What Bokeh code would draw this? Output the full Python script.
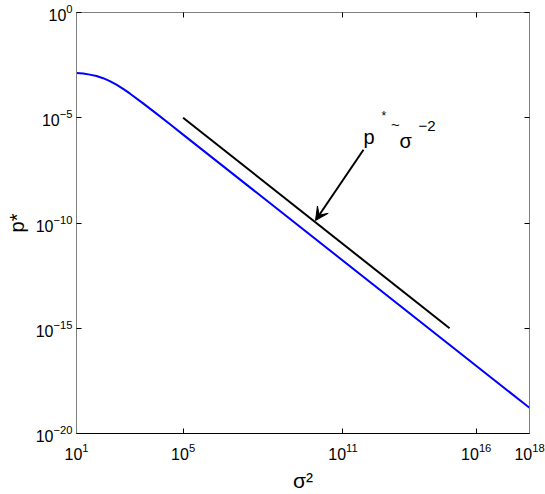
from bokeh.plotting import figure
from bokeh.models import (FixedTicker, LogAxis, Label, Arrow, VeeHead, Range1d)
from bokeh.embed import file_html
from bokeh.resources import INLINE

# ---- data ----
sigma2 = [1e1, 17.8, 31.6, 56.2, 1e2, 178, 316, 562, 1e3, 3160, 1e4, 3.16e4, 1e5, 1e18]
p_star = [1.33e-3, 1.25e-3, 1.12e-3, 9.57e-4, 7.57e-4, 5.52e-4, 3.72e-4, 2.36e-4,
          1.43e-4, 4.84e-5, 1.57e-5, 5.0e-6, 1.58e-6, 1.66e-19]
ref_sigma2 = [1e5, 1e15]
ref_p = [1e-5, 1e-15]
x_ticks = [1e1, 1e5, 1e11, 1e16, 1e18]
y_ticks = [1e-20, 1e-15, 1e-10, 1e-5, 1e0]
x_label = "σ²"
y_label = "p*"

# annotation anchors (log10 coordinates in data space)
arrow_tail = (11.77, -6.52)
arrow_tip = (9.97, -9.88)

FONT = "Liberation Sans"
GRAY = "#808080"

p = figure(width=545, height=494, x_axis_type="log", y_axis_type="log",
           x_range=Range1d(1e1, 1e18), y_range=Range1d(1e-20, 1e0),
           output_backend="svg", toolbar_location=None,
           min_border_left=76, min_border_right=16, min_border_top=12,
           min_border_bottom=59)
p.grid.visible = False
p.outline_line_color = GRAY
p.outline_line_width = 1
p.background_fill_color = "white"
p.border_fill_color = "white"

xa = p.xaxis[0]
xa.ticker = FixedTicker(ticks=x_ticks)
xa.axis_line_color = "black"
xa.major_tick_in = 5
xa.major_tick_out = 0
xa.minor_tick_line_color = None
xa.major_label_text_font = FONT
xa.major_label_text_font_size = "16px"
xa.major_label_standoff = 9
xa.major_label_text_color = "black"
xa.axis_label = x_label
xa.axis_label_text_font = FONT
xa.axis_label_text_font_size = "21px"
xa.axis_label_text_font_style = "normal"
xa.axis_label_text_color = "black"
xa.axis_label_standoff = 6

ya = p.yaxis[0]
ya.ticker = FixedTicker(ticks=y_ticks)
ya.axis_line_color = GRAY
ya.major_tick_in = 5
ya.major_tick_out = 0
ya.minor_tick_line_color = None
ya.major_label_text_font = FONT
ya.major_label_text_font_size = "16px"
ya.major_label_standoff = 4
ya.major_label_text_color = "black"
ya.axis_label = y_label
ya.axis_label_text_font = FONT
ya.axis_label_text_font_size = "20px"
ya.axis_label_text_font_style = "normal"
ya.axis_label_text_color = "black"
ya.axis_label_standoff = 5

for loc, tk in (("above", x_ticks), ("right", y_ticks)):
    ax = LogAxis(ticker=FixedTicker(ticks=tk), major_label_text_font_size="1px",
                 major_label_text_color=None,
                 major_tick_in=5, major_tick_out=0, minor_tick_line_color=None,
                 axis_line_color=GRAY, major_label_standoff=0)
    p.add_layout(ax, loc)

p.line(sigma2, p_star, line_color="#0000ff", line_width=2)
p.line(ref_sigma2, ref_p, line_color="black", line_width=2)

p.add_layout(Arrow(end=VeeHead(size=13, fill_color="black", line_color="black"),
                   x_start=10 ** arrow_tail[0], y_start=10 ** arrow_tail[1],
                   x_end=10 ** arrow_tip[0], y_end=10 ** arrow_tip[1],
                   line_color="black", line_width=2))

def lab(lx, ly, txt, size, angle=0.0):
    p.add_layout(Label(x=10 ** lx, y=10 ** ly, text=txt, text_font=FONT,
                       text_font_size=size, text_color="black", angle=angle,
                       text_align="left", text_baseline="alphabetic"))

# annotation "p* ~ sigma^-2"
lab(11.771, -5.911, "p", "20px")
lab(12.446, -4.918, "*", "12px")
lab(12.800, -5.300, "~", "15px")
lab(13.121, -6.100, "σ", "20px")
lab(13.835, -5.390, "−2", "15px")

open("out.html", "w").write(file_html(p, INLINE))
